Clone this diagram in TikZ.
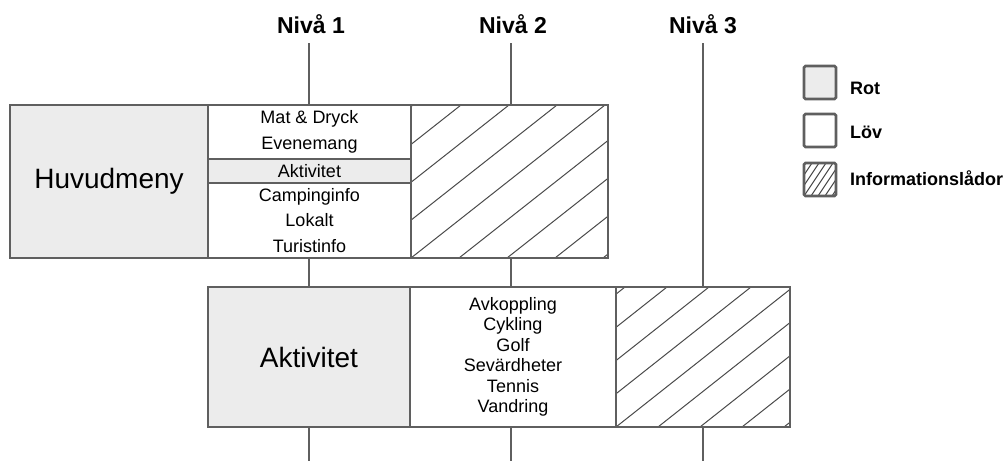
\documentclass[tikz,border=0pt]{standalone}
\usepackage{fontspec}
\setmainfont{Liberation Sans}
\definecolor{edgegray}{HTML}{5F5F5F}
\definecolor{rootfill}{HTML}{ECECEC}
\definecolor{hatchgray}{HTML}{4A4A4A}

\begin{document}
\begin{tikzpicture}[x=1pt,y=-1pt,
  box/.style={draw=edgegray,line width=2.6pt,inner sep=0pt,outer sep=0pt,
    anchor=north west,align=center,fill=white},
  rootbox/.style={box,fill=rootfill},
  hatched/.style n args={3}{box,path picture={
    \foreach \k in {-8,...,8}
      \draw[hatchline] ([xshift={(#1*\k)*1pt}]path picture bounding box.south west)
        -- ++(#2 pt,#3 pt);}},
  hatchline/.style={draw=hatchgray,line width=1pt},
  conn/.style={draw=edgegray,line width=2.6pt},
  bigtxt/.style={font=\fontsize{28}{32}\selectfont},
  toptxt/.style={font=\fontsize{18}{25.5}\selectfont},
  bottxt/.style={font=\fontsize{18}{20.5}\selectfont},
  headtxt/.style={font=\bfseries\fontsize{23}{27}\selectfont,anchor=base,inner sep=0pt},
  legtxt/.style={font=\bfseries\fontsize{18}{20}\selectfont,anchor=base west,inner sep=0pt},
  legbox/.style={minimum width=32,minimum height=33,rounded corners=1.5pt}]

\path[use as bounding box] (0,0) rectangle (1005,461);

% level headings and the free ends of their guide lines
\node[headtxt] (niva1) at (311,33) {Nivå 1};
\node[headtxt] (niva2) at (513,33) {Nivå 2};
\node[headtxt] (niva3) at (703,33) {Nivå 3};
\coordinate (t1) at (309,43);
\coordinate (t2) at (511,43);
\coordinate (t3) at (703,43);
\coordinate (b1) at (309,461);
\coordinate (b2) at (511,461);
\coordinate (b3) at (703,461);

% first row: main menu
\node[rootbox,minimum width=198,minimum height=153,bigtxt] (huvud) at (10,105) {Huvudmeny};
\node[box,minimum width=203,minimum height=54,toptxt] (mida) at (208,105) {Mat \& Dryck\\Evenemang};
\node[box,minimum width=203,minimum height=75,toptxt] (midc) at (208,183) {Campinginfo\\Lokalt\\Turistinfo};
\node[rootbox,minimum width=203,minimum height=24,toptxt] (midb) at (208,159) {Aktivitet};
\node[hatched={48}{194}{153},minimum width=197,minimum height=153] (info1) at (411,105) {};

% second row: activities
\node[rootbox,minimum width=202,minimum height=140,bigtxt] (aktiv) at (208,287) {Aktivitet};
\node[box,minimum width=206,minimum height=140,bottxt] (lista) at (410,287)
  {Avkoppling\\Cykling\\Golf\\Sevärdheter\\Tennis\\Vandring};
\node[hatched={42}{177}{140},minimum width=174,minimum height=140] (info2) at (616,287) {};

% guide lines between the rows
\draw[conn] (t1) -- (t1 |- mida.north);
\draw[conn] (t2) -- (t2 |- info1.north);
\draw[conn] (t3) -- (t3 |- info2.north);
\draw[conn] (t1 |- midc.south) -- (t1 |- aktiv.north);
\draw[conn] (t2 |- info1.south) -- (t2 |- lista.north);
\draw[conn] (t1 |- aktiv.south) -- (b1);
\draw[conn] (t2 |- lista.south) -- (b2);
\draw[conn] (t3 |- info2.south) -- (b3);

% legend
\node[rootbox,legbox] (legrot) at (804,66) {};
\node[box,legbox] (leglov) at (804,114) {};
\node[hatched={7}{22}{33},legbox] (leginfo) at (804,163) {};
\node[legtxt] (legrottxt) at (850,94) {Rot};
\node[legtxt] (leglovtxt) at (850,138) {Löv};
\node[legtxt] (leginfotxt) at (850,185) {Informationslådor};
\end{tikzpicture}
\end{document}
